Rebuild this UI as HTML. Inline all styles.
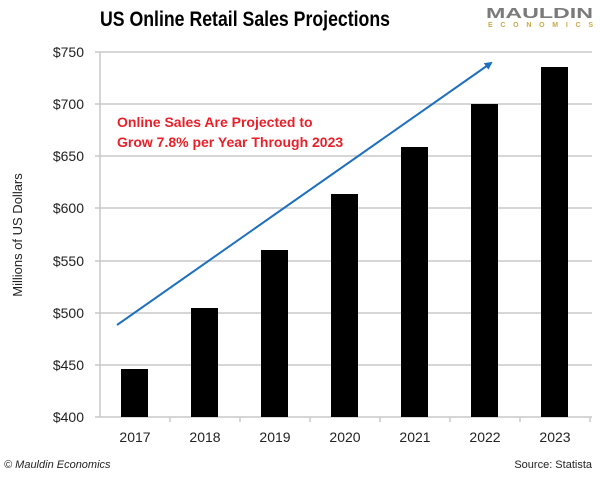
<!DOCTYPE html>
<html><head><meta charset="utf-8"><style>body{margin:0;background:#fff}</style></head>
<body>
<svg width="600" height="473" xmlns="http://www.w3.org/2000/svg" font-family="Liberation Sans, sans-serif">
<defs><marker id="ah" markerWidth="8" markerHeight="8" refX="6" refY="4" orient="auto" markerUnits="userSpaceOnUse"><path d="M0,0 L8,4 L0,8 z" fill="#1f6fbf"/></marker></defs>
<text x="100" y="26" font-size="21" font-weight="bold" textLength="290" lengthAdjust="spacingAndGlyphs">US Online Retail Sales Projections</text>
<text x="486" y="18" font-size="15" font-weight="bold" fill="#7a7a7a" textLength="107" lengthAdjust="spacingAndGlyphs">MAULDIN</text>
<text x="488" y="27" font-size="7" font-weight="bold" fill="#c9a84a" textLength="105" lengthAdjust="spacing">ECONOMICS</text>
<g stroke="#c8c8c8" stroke-width="1.5">
<line x1="95" y1="52" x2="592" y2="52"/><line x1="95" y1="104" x2="592" y2="104"/><line x1="95" y1="156" x2="592" y2="156"/><line x1="95" y1="208" x2="592" y2="208"/><line x1="95" y1="261" x2="592" y2="261"/><line x1="95" y1="313" x2="592" y2="313"/><line x1="95" y1="365" x2="592" y2="365"/>
<line x1="100" y1="52" x2="100" y2="417"/><line x1="95" y1="417" x2="592" y2="417"/>
<line x1="170" y1="417" x2="170" y2="422"/><line x1="240" y1="417" x2="240" y2="422"/><line x1="310" y1="417" x2="310" y2="422"/><line x1="380" y1="417" x2="380" y2="422"/><line x1="450" y1="417" x2="450" y2="422"/><line x1="520" y1="417" x2="520" y2="422"/><line x1="590" y1="417" x2="590" y2="422"/>
</g>
<g font-size="14" text-anchor="end" fill="#222">
<text x="84" y="57">$750</text><text x="84" y="109">$700</text><text x="84" y="161">$650</text><text x="84" y="213">$600</text><text x="84" y="266">$550</text><text x="84" y="318">$500</text><text x="84" y="370">$450</text><text x="84" y="422">$400</text>
</g>
<text transform="translate(22,235) rotate(-90)" font-size="13" text-anchor="middle" fill="#222">Millions of US Dollars</text>
<g fill="#000">
<rect x="121" y="369" width="27" height="48"/>
<rect x="191" y="308" width="27" height="109"/>
<rect x="261" y="250" width="27" height="167"/>
<rect x="331" y="194" width="27" height="223"/>
<rect x="401" y="147" width="27" height="270"/>
<rect x="471" y="104" width="27" height="313"/>
<rect x="541" y="67" width="27" height="350"/>
</g>
<g font-size="14" text-anchor="middle" fill="#222">
<text x="135" y="442">2017</text><text x="205" y="442">2018</text><text x="275" y="442">2019</text><text x="345" y="442">2020</text><text x="415" y="442">2021</text><text x="485" y="442">2022</text><text x="555" y="442">2023</text>
</g>
<line x1="117" y1="325" x2="491" y2="63" stroke="#1f6fbf" stroke-width="2" marker-end="url(#ah)"/>
<g font-size="14" font-weight="bold" fill="#e8202a">
<text x="117" y="127">Online Sales Are Projected to</text>
<text x="117" y="147">Grow 7.8% per Year Through 2023</text>
</g>
<text x="4" y="468" font-size="11" font-style="italic" fill="#222">© Mauldin Economics</text>
<text x="592" y="468" font-size="11" text-anchor="end" fill="#222">Source: Statista</text>
</svg>
</body></html>
